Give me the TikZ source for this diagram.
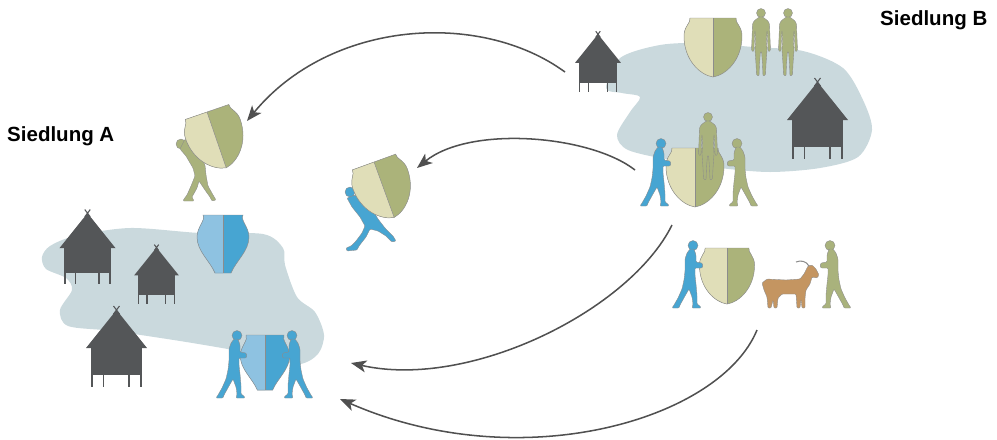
\documentclass[tikz,border=0pt]{standalone}
\usepackage{fontspec}
\newfontfamily\labelfont{Liberation Sans}
\usetikzlibrary{arrows.meta}

\definecolor{blobgray}{HTML}{CAD9DD}
\definecolor{hutgray}{HTML}{545658}
\definecolor{potbeige}{HTML}{E0DEB8}
\definecolor{potolive}{HTML}{ABB37A}
\definecolor{potlight}{HTML}{8EC2E1}
\definecolor{folkblue}{HTML}{47A5D2}
\definecolor{folkgreen}{HTML}{A9B27C}
\definecolor{goatbrown}{HTML}{C49561}
\definecolor{edgegray}{HTML}{8C8C8C}
\definecolor{arrowgray}{HTML}{505050}

% outlines of the two vessel types
\newcommand\leafoutline{(-23,0) -- (23,0) .. controls (22,5) and (29,8) .. (29,18)
  .. controls (29,42) and (13,57) .. (0,59) .. controls (-13,57) and (-29,42) .. (-29,18)
  .. controls (-29,8) and (-22,5) .. cycle}
\newcommand\jaroutline{(-20,0) -- (20,0) .. controls (17,5) and (26,12) .. (26,22)
  .. controls (26,36) and (13,46) .. (8,58) -- (-8,58) .. controls (-13,46) and (-26,36) .. (-26,22)
  .. controls (-26,12) and (-17,5) .. cycle}

\begin{document}
\begin{tikzpicture}
[x=0.03cm,y=-0.03cm,
  blobDecorate/.style={fill=blobgray},
  outlineDecorate/.style={draw=edgegray,line width=0.4pt},
  blueDecorate/.style={fill=folkblue,draw=edgegray,line width=0.3pt},
  greenDecorate/.style={fill=folkgreen,draw=edgegray,line width=0.3pt},
  lineDecorate/.style={draw=arrowgray,line width=1.3pt,
    -{Stealth[length=4.6mm,width=3.6mm,inset=1.2mm]}},
  labelDecorate/.style={anchor=base west,inner sep=0pt,
    font=\labelfont\bfseries\fontsize{17.5}{20}\selectfont},
  hut/.pic={
    \fill[hutgray] (-25.5,-27) rectangle (25.5,0);
    \fill[hutgray] (-30.5,-27) -- (0,-65) -- (30.5,-27) -- cycle;
    \draw[hutgray,line width=0.9pt] (-3,-69) -- (3,-61) (3,-69) -- (-3,-61);
    \foreach \sx in {-24.5,-13,12.5,24.5}
      \draw[hutgray,line width=1.1pt] (\sx,0) -- (\sx,12);
  },
  leafpot/.pic={
    \fill[potolive] \leafoutline;
    \begin{scope}
      \clip (-30,-1) rectangle (0,60);
      \fill[potbeige] \leafoutline;
    \end{scope}
    \draw[outlineDecorate] \leafoutline;
    \draw[outlineDecorate] (0,0) -- (0,59);
  },
  bluepot/.pic={
    \fill[folkblue] \jaroutline;
    \begin{scope}
      \clip (-27,-1) rectangle (0,59);
      \fill[potlight] \jaroutline;
    \end{scope}
    \draw[outlineDecorate] \jaroutline;
    \draw[outlineDecorate] (0,0) -- (0,58);
  },
  frontman/.pic={
    \path[pic actions] (0,5) circle[radius=4.5];
    \path[pic actions,rounded corners=0.8pt] (-1.8,9) -- (-7,13) -- (-8.5,16) -- (-9,30)
      -- (-9.5,42) -- (-8,44) -- (-7,42) -- (-6.5,30) -- (-6,22) -- (-5.5,34) -- (-6,42)
      -- (-5,56) -- (-4.5,67) -- (-2,68) -- (-1.5,56) -- (-0.6,44) -- (0.6,44) -- (1.5,56)
      -- (2,68) -- (4.5,67) -- (5,56) -- (6,42) -- (5.5,34) -- (6,22) -- (6.5,30) -- (7,42)
      -- (8,44) -- (9.5,42) -- (9,30) -- (8.5,16) -- (7,13) -- (1.8,9) -- cycle;
  },
  walker/.pic={
    \path[pic actions] (2,5.5) circle[radius=5];
    \path[pic actions,rounded corners=0.8pt] (-1,9) -- (-4,13) -- (-6,19) -- (-6,31)
      -- (-7,40) -- (-9,49) -- (-13,58) -- (-17,65) -- (-19,68) -- (-12,68) -- (-11,65)
      -- (-6,56) -- (-2,49) -- (1,57) -- (2,64) -- (1,68) -- (10,68) -- (9,66) -- (6,64)
      -- (6,55) -- (5,44) -- (4,35) -- (4,28) -- (11,28) -- (12,26) -- (11,23) -- (5,22)
      -- (5,15) -- (3,9) -- cycle;
  }]
\useasboundingbox (0,0) rectangle (997,439);

%% settlement areas
\path[blobDecorate] plot[smooth cycle] coordinates {
  (42,257) (50,246) (75,236) (130,228) (200,233) (263,234) (283,248) (285,265)
  (297,297) (315,312) (324,335) (318,354) (300,364) (270,358) (233,350) (180,341)
  (113,331) (68,326) (60,310) (72,290) (66,278) (46,269)};
\path[blobDecorate] plot[smooth cycle] coordinates {
  (606,88) (620,58) (660,45) (703,43) (753,47) (803,51) (843,68) (863,100)
  (872,130) (858,157) (820,168) (770,172) (720,168) (670,160) (628,150)
  (617,135) (630,112) (640,97) (622,93)};

%% huts
\foreach \hx/\hy/\hs in {87.5/273/0.92, 156.5/295/0.73, 116.5/375/1,
  598/83/0.75, 817.5/147/1}
{
  \pic[scale=\hs] at (\hx,\hy) {hut};
}

\node[labelDecorate] (siedlungA) at (7,141) {Siedlung A};
\node[labelDecorate] (siedlungB) at (880,25) {Siedlung B};

%% arrow ends
\coordinate (hutB) at (565,72);
\coordinate (carrierA) at (247,121);
\coordinate (tradeB) at (635,170);
\coordinate (runnerA) at (417,168);
\coordinate (shieldB) at (672,225);
\coordinate (jarA) at (351,363);
\coordinate (goatB) at (757,330);
\coordinate (groupA) at (340,399);

\draw[lineDecorate] (hutB) .. controls (480,10) and (330,20) .. (carrierA);
\draw[lineDecorate] (tradeB) .. controls (590,135) and (470,125) .. (runnerA);
\draw[lineDecorate] (shieldB) .. controls (630,310) and (470,390) .. (jarA);
\draw[lineDecorate] (goatB) .. controls (720,420) and (520,478) .. (groupA);

%% settlement B
\pic at (713,18) {leafpot};
\pic[greenDecorate] at (761,8) {frontman};
\pic[greenDecorate] at (788,8) {frontman};
\pic at (695,148) {leafpot};
\pic[greenDecorate] at (708,112) {frontman};
\pic[blueDecorate] at (659,138) {walker};
\pic[greenDecorate,xscale=-1] at (739,138) {walker};

%% exchange with the goat
\pic[scale=0.95] at (727,248) {leafpot};
\pic[blueDecorate] at (691,240) {walker};
\path[fill=goatbrown,draw=edgegray,line width=0.3pt,rounded corners=0.8pt]
  (762,283) -- (767,279) -- (786,280) -- (800,279) -- (804,274) -- (808,266)
  -- (812,265) -- (816,269) -- (819,275) -- (817,278) -- (812,277) -- (810,284)
  -- (806,290) -- (805,298) -- (805,308) -- (802,308) -- (801,299) -- (800,308)
  -- (797,308) -- (796,294) -- (782,294) -- (778,298) -- (777,308) -- (774,308)
  -- (773,300) -- (771,308) -- (768,308) -- (767,297) -- (764,290) -- cycle;
\draw[edgegray,line width=0.9pt] (809,266) .. controls (806,261) and (801,260) .. (796,262);
\pic[greenDecorate,xscale=-1] at (832,240) {walker};

%% carried loads
\path[greenDecorate] (181,144) circle[radius=5];
\path[greenDecorate,rounded corners=0.8pt] (180,149) -- (186,156) -- (193,168)
  -- (195,176) -- (191,186) -- (187,195) -- (184,199) -- (183,201) -- (194,201)
  -- (192,197) -- (197,188) -- (199,181) -- (205,190) -- (210,197) -- (212,201)
  -- (216,200) -- (213,195) -- (208,186) -- (206,175) -- (205,165) -- (199,153)
  -- (190,143) -- (185,139) -- cycle;
\pic[rotate=19] at (207,112) {leafpot};

\path[blueDecorate] (350,192) circle[radius=5];
\path[blueDecorate,rounded corners=0.8pt] (347,198) -- (352,207) -- (360,217)
  -- (365,226) -- (362,233) -- (356,241) -- (351,246) -- (346,248) -- (347,251)
  -- (357,250) -- (359,246) -- (366,237) -- (370,229) -- (378,231) -- (386,236)
  -- (392,242) -- (396,241) -- (393,236) -- (385,228) -- (378,219) -- (371,207)
  -- (362,198) -- (355,195) -- cycle;
\pic[rotate=20] at (374,162) {leafpot};

%% settlement A
\pic at (223,215) {bluepot};
\pic[scale=0.95] at (265,335) {bluepot};
\pic[blueDecorate] at (235,330) {walker};
\pic[blueDecorate,xscale=-1] at (294,330) {walker};
\end{tikzpicture}
\end{document}
